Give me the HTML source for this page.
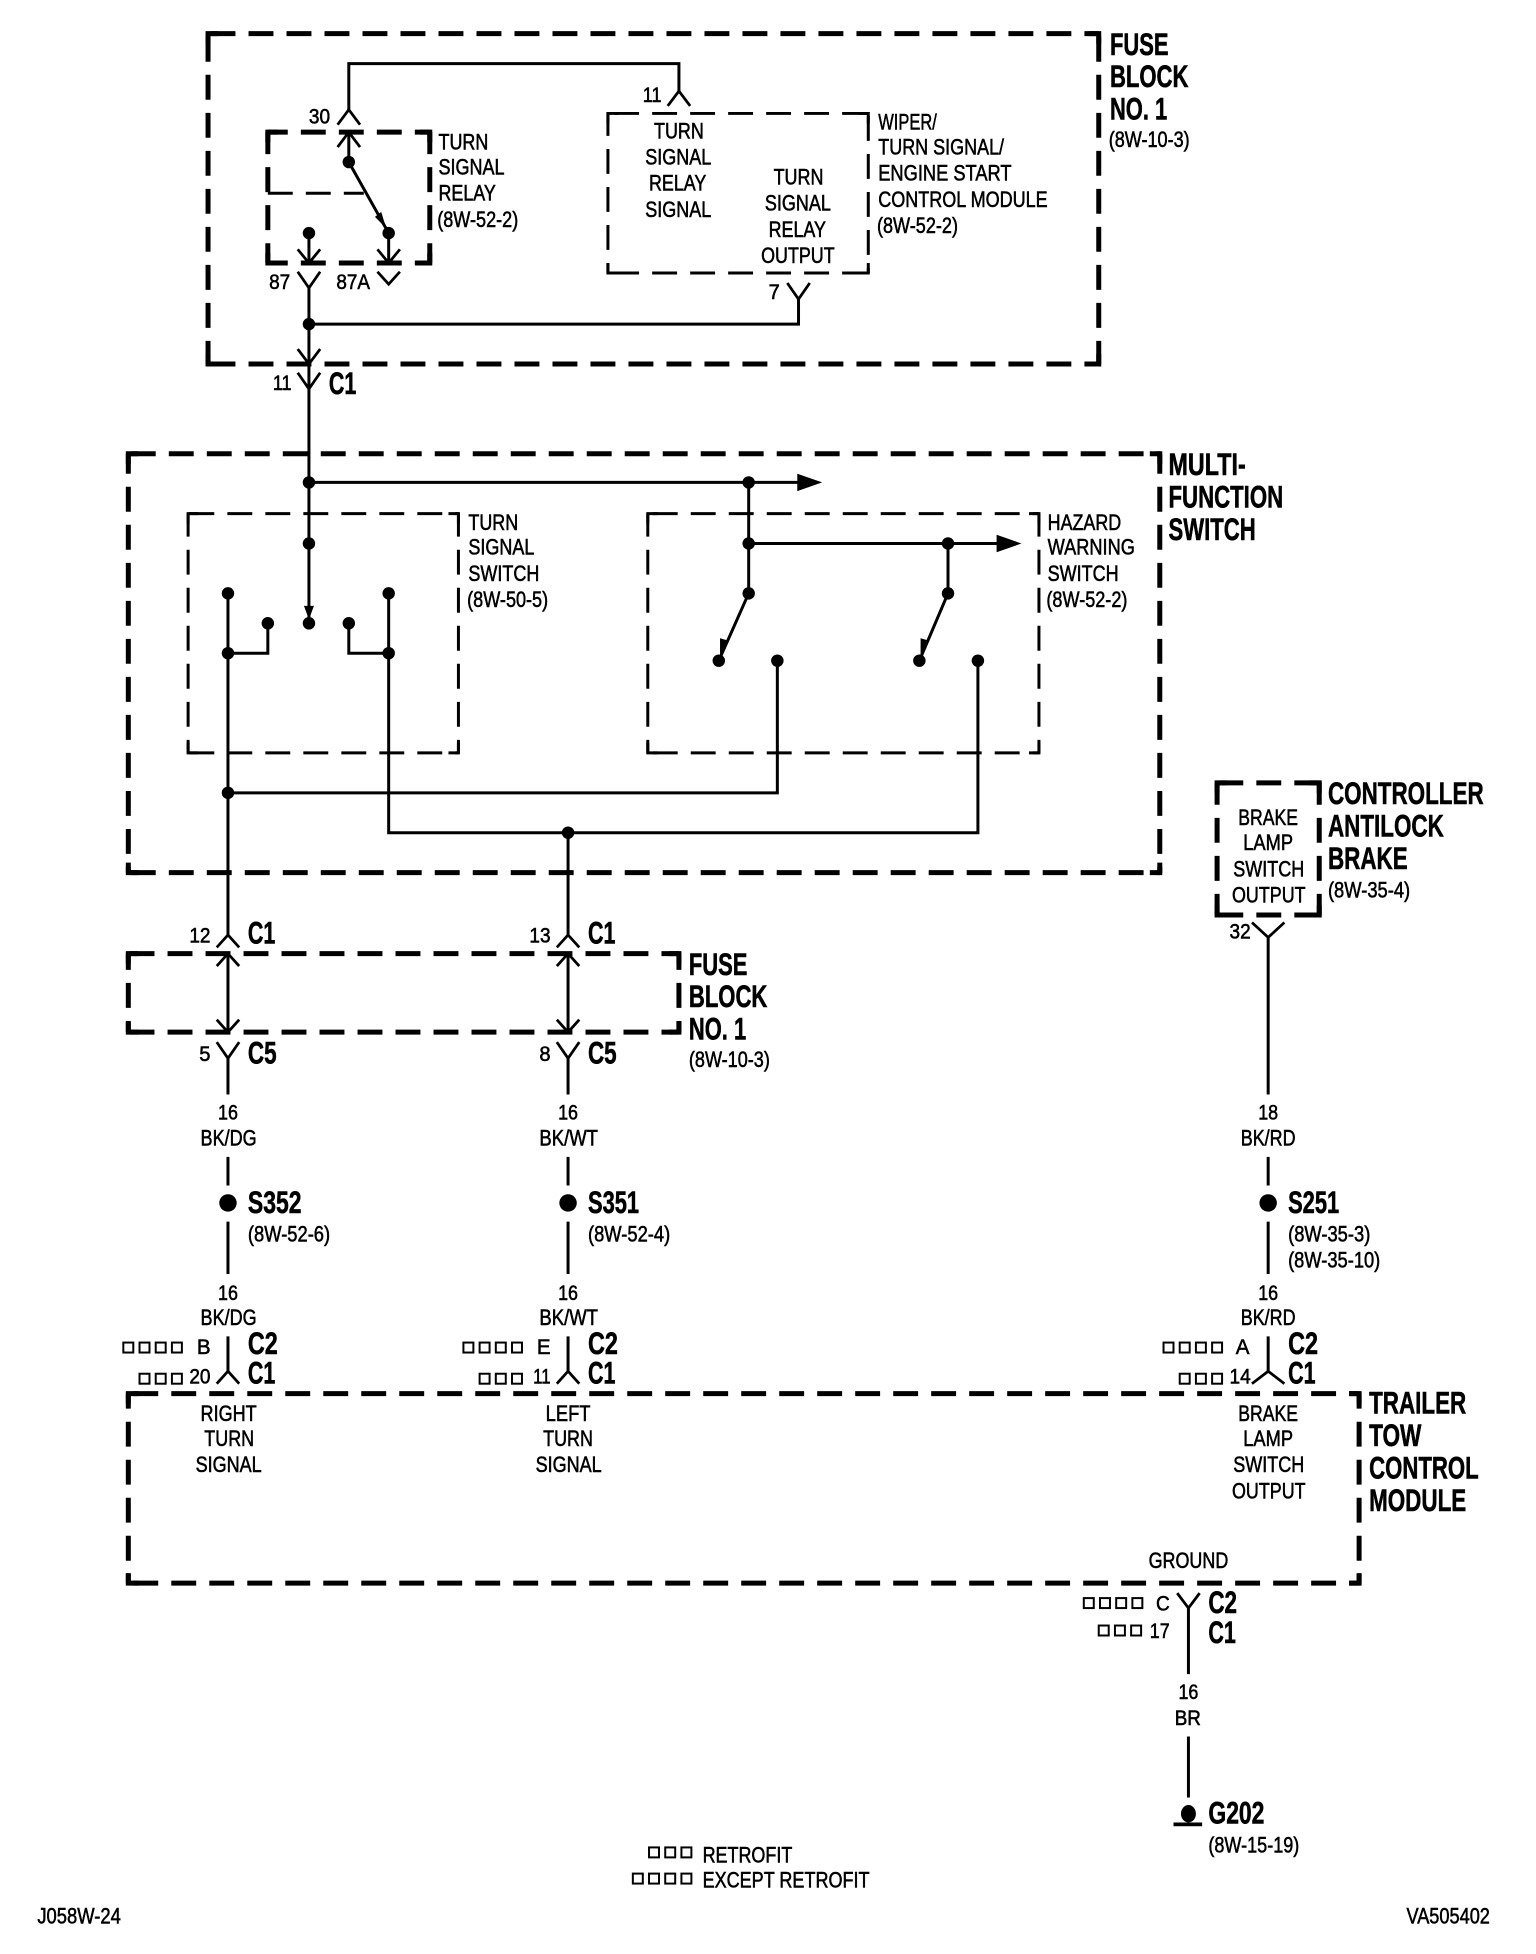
<!DOCTYPE html>
<html><head><meta charset="utf-8"><style>
html,body{margin:0;padding:0;background:#fff}
svg{display:block}
text{font-family:"Liberation Sans",sans-serif;fill:#000;stroke:#000;stroke-width:.45}
.r{font-size:18px}.b{font-size:25px;font-weight:bold;}.p{font-size:17px}
.w{fill:none;stroke:#000;stroke-width:2.4}
.c{fill:none;stroke:#000;stroke-width:2.2}
.t{fill:none;stroke:#000;stroke-width:4;stroke-dasharray:20 10.5}
.tc{fill:none;stroke:#000;stroke-width:4}
.n{fill:none;stroke:#000;stroke-width:2.4;stroke-dasharray:20 10.5}
.nc{fill:none;stroke:#000;stroke-width:2.4}
.q{fill:none;stroke:#000;stroke-width:1.6}
</style></head><body>
<svg xmlns="http://www.w3.org/2000/svg" width="1536" height="1954" viewBox="0 0 1233 1567.5" preserveAspectRatio="none">
<rect width="1240" height="1578" fill="#fff"/>
<!-- boxes -->
<path class="t" style="stroke-dashoffset:-2" d="M167 27H882M167 292H882"/>
<path class="t" style="stroke-dashoffset:-2.5" d="M167 27V292M882 27V292"/>
<path class="tc" d="M167 35V27H175M874 27H882V35M882 284V292H874M175 292H167V284"/>
<path class="t" style="stroke-dashoffset:4" d="M215 106H345M215 211H345"/>
<path class="t" style="stroke-dashoffset:2.4" d="M215 106V211M345 106V211"/>
<path class="tc" d="M215 114V106H223M337 106H345V114M345 203V211H337M223 211H215V203"/>
<path class="n" d="M215 155H292"/>
<path class="n" style="stroke-dashoffset:-5" d="M488 91H697"/>
<path class="n" style="stroke-dashoffset:-5" d="M488 219H697"/>
<path class="n" style="stroke-dashoffset:2" d="M488 91V219"/>
<path class="n" style="stroke-dashoffset:-2" d="M697 91V219"/>
<path class="nc" d="M488 99V91H496M689 91H697V99M697 211V219H689M496 219H488V211"/>
<path class="t" style="stroke-dashoffset:-2" d="M103 364H931M103 700H931"/>
<path class="t" style="stroke-dashoffset:4" d="M103 364V700M931 364V700"/>
<path class="tc" d="M103 372V364H111M923 364H931V372M931 692V700H923M111 700H103V692"/>
<path class="n" style="stroke-dashoffset:-1" d="M151 412H368M151 604H368"/>
<path class="n" style="stroke-dashoffset:1.5" d="M151 412V604M368 412V604"/>
<path class="nc" d="M151 420V412H159M360 412H368V420M368 596V604H360M159 604H151V596"/>
<path class="n" style="stroke-dashoffset:-4" d="M520 412H834M520 604H834"/>
<path class="n" style="stroke-dashoffset:1.5" d="M520 412V604M834 412V604"/>
<path class="nc" d="M520 420V412H528M826 412H834V420M834 596V604H826M528 604H520V596"/>
<path class="t" style="stroke-dashoffset:-1" d="M103 765H545M103 828H545"/>
<path class="t" style="stroke-dashoffset:7" d="M103 765V828M545 765V828"/>
<path class="tc" d="M103 773V765H111M537 765H545V773M545 820V828H537M111 828H103V820"/>
<path class="t" style="stroke-dashoffset:-1" d="M977 628H1059M977 734H1059"/>
<path class="t" style="stroke-dashoffset:2.4" d="M977 628V734M1059 628V734"/>
<path class="tc" d="M977 636V628H985M1051 628H1059V636M1059 726V734H1051M985 734H977V726"/>
<path class="t" style="stroke-dashoffset:-4" d="M103 1118H1091M103 1270H1091"/>
<path class="t" style="stroke-dashoffset:8" d="M103 1118V1270M1091 1118V1270"/>
<path class="tc" d="M103 1126V1118H111M1083 1118H1091V1126M1091 1262V1270H1083M111 1270H103V1262"/>
<!-- wires -->
<g class="w">
<path d="M280 88V51H545V73"/>
<path d="M280 106V130L312 187V211"/>
<path d="M248 187V211"/>
<path d="M248 231V500"/>
<path d="M248 260H641V240"/>
<path d="M248 387H645"/>
<path d="M601 387V476L577 530"/>
<path d="M601 436H805"/>
<path d="M761 436V476L738 530"/>
<path d="M183 476V750"/>
<path d="M183 524H215V500"/>
<path d="M312 476V668H785V530"/>
<path d="M312 524H280V500"/>
<path d="M183 636H624V530"/>
<path d="M456 668V750"/>
<path d="M183 765V828M456 765V828"/>
<path d="M183 849V878M183 928V951M183 980V1022M183 1072V1100"/>
<path d="M456 849V878M456 928V951M456 980V1022M456 1072V1100"/>
<path d="M1018 752V878M1018 928V951M1018 980V1022M1018 1072V1100"/>
<path d="M954 1290V1343M954 1393V1442"/>
</g>
<!-- connector marks -->
<g class="c">
<path d="M271 100L280 88L289 100"/>
<path d="M536 85L545 73L554 85"/>
<path d="M271 118L280 106L289 118"/>
<path d="M239 200L248 211L257 200M303 200L312 211L321 200"/>
<path d="M239 218L248 231L257 218M303 218L312 228L321 218"/>
<path d="M632 227L641 240L650 227"/>
<path d="M239 280L248 292L257 280"/>
<path d="M239 299L248 312L257 299"/>
<path d="M174 760L183 750L192 760M447 760L456 750L465 760"/>
<path d="M174 775L183 765L192 775M447 775L456 765L465 775"/>
<path d="M174 818L183 828L192 818M447 818L456 828L465 818"/>
<path d="M174 836L183 849L192 836M447 836L456 849L465 836"/>
<path d="M174 1110L183 1100L192 1110M447 1110L456 1100L465 1110M1005 1110L1018 1100L1031 1110"/>
<path d="M1005 740L1018 752L1031 740"/>
<path d="M945 1278L954 1290L963 1278"/>
</g>
<!-- arrowheads -->
<path d="M640 380L660 387L640 394Z"/>
<path d="M800 429L820 436L800 443Z"/>
<path d="M244 486L252 486L248 497Z"/>
<path d="M301 174L306 170L310 183Z"/>
<path d="M578 512L585 514L578 527Z"/>
<path d="M739 512L746 514L739 527Z"/>
<!-- dots -->
<g>
<circle cx="280" cy="130" r="5"/><circle cx="248" cy="187" r="5"/><circle cx="312" cy="187" r="5"/>
<circle cx="248" cy="260" r="5"/><circle cx="248" cy="387" r="5"/><circle cx="601" cy="387" r="5"/>
<circle cx="248" cy="436" r="5"/><circle cx="601" cy="436" r="5"/><circle cx="761" cy="436" r="5"/>
<circle cx="183" cy="476" r="5"/><circle cx="312" cy="476" r="5"/><circle cx="601" cy="476" r="5"/><circle cx="761" cy="476" r="5"/>
<circle cx="215" cy="500" r="5"/><circle cx="248" cy="500" r="5"/><circle cx="280" cy="500" r="5"/>
<circle cx="183" cy="524" r="5"/><circle cx="312" cy="524" r="5"/>
<circle cx="577" cy="530" r="5"/><circle cx="624" cy="530" r="5"/><circle cx="738" cy="530" r="5"/><circle cx="785" cy="530" r="5"/>
<circle cx="183" cy="636" r="5"/><circle cx="456" cy="668" r="5"/>
<circle cx="183" cy="965" r="7"/><circle cx="456" cy="965" r="7"/><circle cx="1018" cy="965" r="7"/>
<ellipse cx="954" cy="1455" rx="6" ry="7"/>
<rect x="942" y="1462" width="23" height="3"/>
</g>
<!-- small squares -->
<g class="q">
<rect x="99" y="1077" width="8" height="8"/><rect x="112" y="1077" width="8" height="8"/><rect x="125" y="1077" width="8" height="8"/><rect x="138" y="1077" width="8" height="8"/>
<rect x="112" y="1102" width="8" height="8"/><rect x="125" y="1102" width="8" height="8"/><rect x="138" y="1102" width="8" height="8"/>
<rect x="372" y="1077" width="8" height="8"/><rect x="385" y="1077" width="8" height="8"/><rect x="398" y="1077" width="8" height="8"/><rect x="411" y="1077" width="8" height="8"/>
<rect x="385" y="1102" width="8" height="8"/><rect x="398" y="1102" width="8" height="8"/><rect x="411" y="1102" width="8" height="8"/>
<rect x="934" y="1077" width="8" height="8"/><rect x="947" y="1077" width="8" height="8"/><rect x="960" y="1077" width="8" height="8"/><rect x="973" y="1077" width="8" height="8"/>
<rect x="947" y="1102" width="8" height="8"/><rect x="960" y="1102" width="8" height="8"/><rect x="973" y="1102" width="8" height="8"/>
<rect x="870" y="1282" width="8" height="8"/><rect x="883" y="1282" width="8" height="8"/><rect x="896" y="1282" width="8" height="8"/><rect x="909" y="1282" width="8" height="8"/>
<rect x="882" y="1304" width="8" height="8"/><rect x="895" y="1304" width="8" height="8"/><rect x="908" y="1304" width="8" height="8"/>
<rect x="521" y="1482" width="8" height="8"/><rect x="534" y="1482" width="8" height="8"/><rect x="547" y="1482" width="8" height="8"/>
<rect x="508" y="1503" width="8" height="8"/><rect x="521" y="1503" width="8" height="8"/><rect x="534" y="1503" width="8" height="8"/><rect x="547" y="1503" width="8" height="8"/>
</g>
<!-- bold titles -->
<g class="b">
<text x="891" y="44" textLength="47" lengthAdjust="spacingAndGlyphs">FUSE</text>
<text x="891" y="70" textLength="63" lengthAdjust="spacingAndGlyphs">BLOCK</text>
<text x="891" y="96" textLength="46" lengthAdjust="spacingAndGlyphs">NO. 1</text>
<text x="938" y="381" textLength="62" lengthAdjust="spacingAndGlyphs">MULTI-</text>
<text x="938" y="407" textLength="92" lengthAdjust="spacingAndGlyphs">FUNCTION</text>
<text x="938" y="433" textLength="70" lengthAdjust="spacingAndGlyphs">SWITCH</text>
<text x="553" y="782" textLength="47" lengthAdjust="spacingAndGlyphs">FUSE</text>
<text x="553" y="808" textLength="63" lengthAdjust="spacingAndGlyphs">BLOCK</text>
<text x="553" y="834" textLength="46" lengthAdjust="spacingAndGlyphs">NO. 1</text>
<text x="1066" y="645" textLength="125" lengthAdjust="spacingAndGlyphs">CONTROLLER</text>
<text x="1066" y="671" textLength="93" lengthAdjust="spacingAndGlyphs">ANTILOCK</text>
<text x="1066" y="697" textLength="64" lengthAdjust="spacingAndGlyphs">BRAKE</text>
<text x="1099" y="1134" textLength="78" lengthAdjust="spacingAndGlyphs">TRAILER</text>
<text x="1099" y="1160" textLength="42" lengthAdjust="spacingAndGlyphs">TOW</text>
<text x="1099" y="1186" textLength="88" lengthAdjust="spacingAndGlyphs">CONTROL</text>
<text x="1099" y="1212" textLength="78" lengthAdjust="spacingAndGlyphs">MODULE</text>
<text x="264" y="316" textLength="22" lengthAdjust="spacingAndGlyphs">C1</text>
<text x="199" y="757" textLength="22" lengthAdjust="spacingAndGlyphs">C1</text>
<text x="472" y="757" textLength="22" lengthAdjust="spacingAndGlyphs">C1</text>
<text x="199" y="853" textLength="23" lengthAdjust="spacingAndGlyphs">C5</text>
<text x="472" y="853" textLength="23" lengthAdjust="spacingAndGlyphs">C5</text>
<text x="199" y="973" textLength="43" lengthAdjust="spacingAndGlyphs">S352</text>
<text x="472" y="973" textLength="41" lengthAdjust="spacingAndGlyphs">S351</text>
<text x="1034" y="973" textLength="41" lengthAdjust="spacingAndGlyphs">S251</text>
<text x="199" y="1086" textLength="24" lengthAdjust="spacingAndGlyphs">C2</text>
<text x="199" y="1110" textLength="22" lengthAdjust="spacingAndGlyphs">C1</text>
<text x="472" y="1086" textLength="24" lengthAdjust="spacingAndGlyphs">C2</text>
<text x="472" y="1110" textLength="22" lengthAdjust="spacingAndGlyphs">C1</text>
<text x="1034" y="1086" textLength="24" lengthAdjust="spacingAndGlyphs">C2</text>
<text x="1034" y="1110" textLength="22" lengthAdjust="spacingAndGlyphs">C1</text>
<text x="970" y="1294" textLength="23" lengthAdjust="spacingAndGlyphs">C2</text>
<text x="970" y="1318" textLength="22" lengthAdjust="spacingAndGlyphs">C1</text>
<text x="970" y="1463" textLength="45" lengthAdjust="spacingAndGlyphs">G202</text>
</g>
<!-- regular labels -->
<g class="r">
<text x="890" y="118" textLength="65" lengthAdjust="spacingAndGlyphs">(8W-10-3)</text>
<text x="352" y="120" textLength="40" lengthAdjust="spacingAndGlyphs">TURN</text>
<text x="352" y="140" textLength="53" lengthAdjust="spacingAndGlyphs">SIGNAL</text>
<text x="352" y="161" textLength="46" lengthAdjust="spacingAndGlyphs">RELAY</text>
<text x="351" y="182" textLength="65" lengthAdjust="spacingAndGlyphs">(8W-52-2)</text>
<text x="525" y="111" textLength="40" lengthAdjust="spacingAndGlyphs">TURN</text>
<text x="518" y="132" textLength="53" lengthAdjust="spacingAndGlyphs">SIGNAL</text>
<text x="521" y="153" textLength="46" lengthAdjust="spacingAndGlyphs">RELAY</text>
<text x="518" y="174" textLength="53" lengthAdjust="spacingAndGlyphs">SIGNAL</text>
<text x="621" y="148" textLength="40" lengthAdjust="spacingAndGlyphs">TURN</text>
<text x="614" y="169" textLength="53" lengthAdjust="spacingAndGlyphs">SIGNAL</text>
<text x="617" y="190" textLength="46" lengthAdjust="spacingAndGlyphs">RELAY</text>
<text x="611" y="211" textLength="59" lengthAdjust="spacingAndGlyphs">OUTPUT</text>
<text x="705" y="104" textLength="47" lengthAdjust="spacingAndGlyphs">WIPER/</text>
<text x="705" y="124" textLength="101" lengthAdjust="spacingAndGlyphs">TURN SIGNAL/</text>
<text x="705" y="145" textLength="107" lengthAdjust="spacingAndGlyphs">ENGINE START</text>
<text x="705" y="166" textLength="136" lengthAdjust="spacingAndGlyphs">CONTROL MODULE</text>
<text x="704" y="187" textLength="65" lengthAdjust="spacingAndGlyphs">(8W-52-2)</text>
<text x="376" y="425" textLength="40" lengthAdjust="spacingAndGlyphs">TURN</text>
<text x="376" y="445" textLength="53" lengthAdjust="spacingAndGlyphs">SIGNAL</text>
<text x="376" y="466" textLength="57" lengthAdjust="spacingAndGlyphs">SWITCH</text>
<text x="375" y="487" textLength="65" lengthAdjust="spacingAndGlyphs">(8W-50-5)</text>
<text x="841" y="425" textLength="59" lengthAdjust="spacingAndGlyphs">HAZARD</text>
<text x="841" y="445" textLength="70" lengthAdjust="spacingAndGlyphs">WARNING</text>
<text x="841" y="466" textLength="57" lengthAdjust="spacingAndGlyphs">SWITCH</text>
<text x="840" y="487" textLength="65" lengthAdjust="spacingAndGlyphs">(8W-52-2)</text>
<text x="553" y="856" textLength="65" lengthAdjust="spacingAndGlyphs">(8W-10-3)</text>
<text x="994" y="662" textLength="48" lengthAdjust="spacingAndGlyphs">BRAKE</text>
<text x="998" y="682" textLength="40" lengthAdjust="spacingAndGlyphs">LAMP</text>
<text x="990" y="703" textLength="57" lengthAdjust="spacingAndGlyphs">SWITCH</text>
<text x="989" y="724" textLength="59" lengthAdjust="spacingAndGlyphs">OUTPUT</text>
<text x="1066" y="720" textLength="66" lengthAdjust="spacingAndGlyphs">(8W-35-4)</text>
<text x="161" y="919" textLength="45" lengthAdjust="spacingAndGlyphs">BK/DG</text>
<text x="433" y="919" textLength="47" lengthAdjust="spacingAndGlyphs">BK/WT</text>
<text x="996" y="919" textLength="44" lengthAdjust="spacingAndGlyphs">BK/RD</text>
<text x="199" y="996" textLength="66" lengthAdjust="spacingAndGlyphs">(8W-52-6)</text>
<text x="472" y="996" textLength="66" lengthAdjust="spacingAndGlyphs">(8W-52-4)</text>
<text x="1034" y="996" textLength="66" lengthAdjust="spacingAndGlyphs">(8W-35-3)</text>
<text x="1034" y="1017" textLength="74" lengthAdjust="spacingAndGlyphs">(8W-35-10)</text>
<text x="161" y="1063" textLength="45" lengthAdjust="spacingAndGlyphs">BK/DG</text>
<text x="433" y="1063" textLength="47" lengthAdjust="spacingAndGlyphs">BK/WT</text>
<text x="996" y="1063" textLength="44" lengthAdjust="spacingAndGlyphs">BK/RD</text>
<text x="161" y="1140" textLength="45" lengthAdjust="spacingAndGlyphs">RIGHT</text>
<text x="164" y="1160" textLength="40" lengthAdjust="spacingAndGlyphs">TURN</text>
<text x="157" y="1181" textLength="53" lengthAdjust="spacingAndGlyphs">SIGNAL</text>
<text x="438" y="1140" textLength="36" lengthAdjust="spacingAndGlyphs">LEFT</text>
<text x="436" y="1160" textLength="40" lengthAdjust="spacingAndGlyphs">TURN</text>
<text x="430" y="1181" textLength="53" lengthAdjust="spacingAndGlyphs">SIGNAL</text>
<text x="994" y="1140" textLength="48" lengthAdjust="spacingAndGlyphs">BRAKE</text>
<text x="998" y="1160" textLength="40" lengthAdjust="spacingAndGlyphs">LAMP</text>
<text x="990" y="1181" textLength="57" lengthAdjust="spacingAndGlyphs">SWITCH</text>
<text x="989" y="1202" textLength="59" lengthAdjust="spacingAndGlyphs">OUTPUT</text>
<text x="922" y="1258" textLength="64" lengthAdjust="spacingAndGlyphs">GROUND</text>
<text x="970" y="1486" textLength="73" lengthAdjust="spacingAndGlyphs">(8W-15-19)</text>
<text x="564" y="1494" textLength="72" lengthAdjust="spacingAndGlyphs">RETROFIT</text>
<text x="564" y="1514" textLength="134" lengthAdjust="spacingAndGlyphs">EXCEPT RETROFIT</text>
<text x="30" y="1543" textLength="67" lengthAdjust="spacingAndGlyphs">J058W-24</text>
<text x="1129" y="1543" textLength="67" lengthAdjust="spacingAndGlyphs">VA505402</text>
</g>
<!-- pin numbers -->
<g class="p">
<text x="248" y="99" textLength="17" lengthAdjust="spacingAndGlyphs">30</text>
<text x="516" y="82" textLength="15" lengthAdjust="spacingAndGlyphs">11</text>
<text x="216" y="232" textLength="17" lengthAdjust="spacingAndGlyphs">87</text>
<text x="270" y="232" textLength="27" lengthAdjust="spacingAndGlyphs">87A</text>
<text x="617" y="240" textLength="9" lengthAdjust="spacingAndGlyphs">7</text>
<text x="219" y="313" textLength="15" lengthAdjust="spacingAndGlyphs">11</text>
<text x="152" y="756" textLength="17" lengthAdjust="spacingAndGlyphs">12</text>
<text x="425" y="756" textLength="17" lengthAdjust="spacingAndGlyphs">13</text>
<text x="160" y="851" textLength="9" lengthAdjust="spacingAndGlyphs">5</text>
<text x="433" y="851" textLength="9" lengthAdjust="spacingAndGlyphs">8</text>
<text x="987" y="753" textLength="17" lengthAdjust="spacingAndGlyphs">32</text>
<text x="175" y="898" textLength="16" lengthAdjust="spacingAndGlyphs">16</text>
<text x="448" y="898" textLength="16" lengthAdjust="spacingAndGlyphs">16</text>
<text x="1010" y="898" textLength="16" lengthAdjust="spacingAndGlyphs">18</text>
<text x="175" y="1043" textLength="16" lengthAdjust="spacingAndGlyphs">16</text>
<text x="448" y="1043" textLength="16" lengthAdjust="spacingAndGlyphs">16</text>
<text x="1010" y="1043" textLength="16" lengthAdjust="spacingAndGlyphs">16</text>
<text x="158" y="1086" textLength="11" lengthAdjust="spacingAndGlyphs">B</text>
<text x="431" y="1086" textLength="11" lengthAdjust="spacingAndGlyphs">E</text>
<text x="992" y="1086" textLength="11" lengthAdjust="spacingAndGlyphs">A</text>
<text x="152" y="1110" textLength="17" lengthAdjust="spacingAndGlyphs">20</text>
<text x="428" y="1110" textLength="14" lengthAdjust="spacingAndGlyphs">11</text>
<text x="987" y="1110" textLength="17" lengthAdjust="spacingAndGlyphs">14</text>
<text x="928" y="1292" textLength="11" lengthAdjust="spacingAndGlyphs">C</text>
<text x="923" y="1314" textLength="16" lengthAdjust="spacingAndGlyphs">17</text>
<text x="946" y="1363" textLength="16" lengthAdjust="spacingAndGlyphs">16</text>
<text x="943" y="1384" textLength="21" lengthAdjust="spacingAndGlyphs">BR</text>
</g>
</svg>
</body></html>
